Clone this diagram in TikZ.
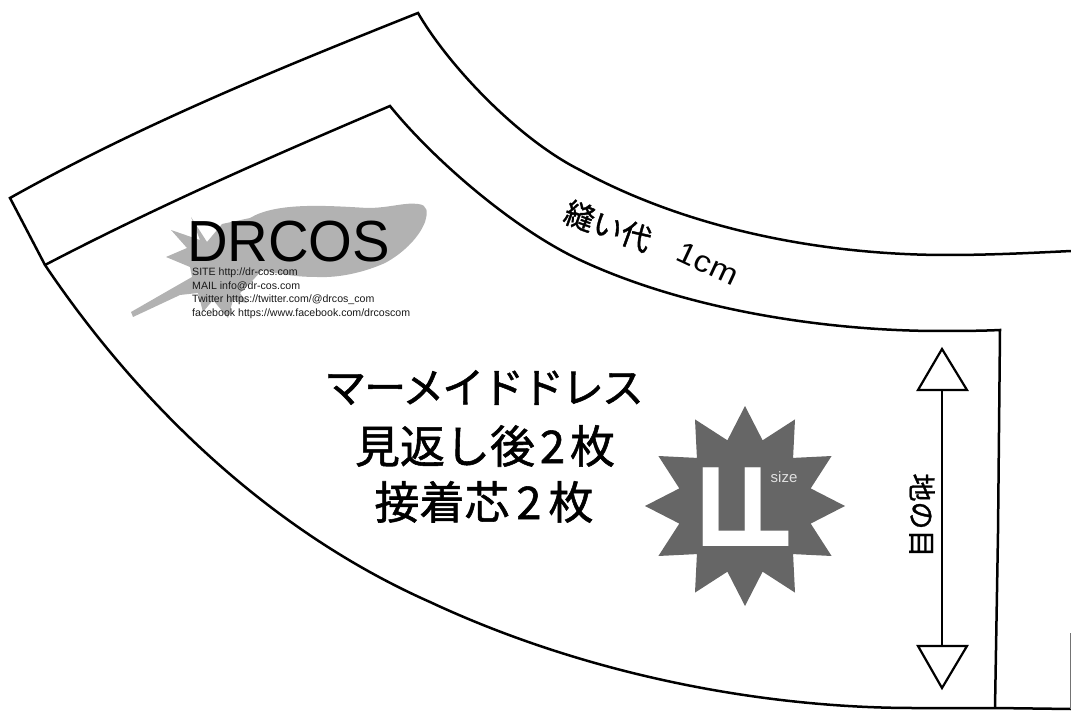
\documentclass[tikz,border=0pt]{standalone}
\usepackage{fontspec}
\usepackage{graphicx}
\setmainfont{Liberation Sans}
\newfontfamily\cjk[FakeBold=1.2]{Noto Sans CJK JP}
\newfontfamily\cjktight[LetterSpace=-5,FakeBold=1.2]{Noto Sans CJK JP}
\newfontfamily\dejabold{DejaVu Sans Bold}
\newcommand{\fs}[1]{\fontsize{#1}{#1}\selectfont}
\begin{document}
\begin{tikzpicture}[x=1pt,y=-1pt,
  seam/.style={line width=2.5pt,line join=miter,draw=black},
  thinseam/.style={line width=2.2pt,draw=black},
  arrowhead/.style={line width=2.2pt,draw=black,fill=white,line join=miter},
  label/.style={inner sep=0pt,outer sep=0pt,text=black},
  info/.style={inner sep=0pt,anchor=base west,text=black!90,font=\fs{10.6}}]
\useasboundingbox (0,0) rectangle (1071,711);
% logo leaf
\fill[black!30] (250,218) .. controls (275,203) and (320,205) .. (367,208)
  .. controls (390,208) and (405,202) .. (418,204)
  .. controls (428,205) and (428,212) .. (425,222)
  .. controls (418,240) and (400,255) .. (385,263)
  .. controls (365,272) and (340,278) .. (317,277)
  .. controls (295,277) and (280,274) .. (262,270)
  -- (253,280) -- (240,293) -- (247,303) -- (233,300) -- (228,318) -- (213,300)
  -- (203,312) -- (198,293) -- (180,295) -- (133,317) -- (131,312) -- (178,285)
  -- (192,277) -- (190,267) -- (166,257) -- (187,248) -- (171,230) -- (200,240)
  -- (191,217) -- (207,242) -- (222,224) -- cycle;
% outer cutting line
\draw[seam] (1071,251) .. controls (1030,253) and (990,255) .. (947,255)
  .. controls (830,255) and (694,232) .. (580,170)
  .. controls (520,140) and (450,68) .. (418,13)
  .. controls (280,68) and (140,125) .. (10,198) -- (45,265)
  .. controls (140,406) and (272,532) .. (430,602)
  .. controls (584,674) and (760,708) .. (914,708)
  -- (995,708) -- (1071,709);
% inner sewing line
\draw[seam] (995,708) -- (998,533) -- (1000,330)
  .. controls (980,331) and (955,331) .. (933,331)
  .. controls (820,330) and (685,309) .. (580,260)
  .. controls (512,228) and (432,158) .. (390,106)
  .. controls (275,155) and (160,205) .. (45,265);
\draw[black!55,line width=1pt] (1070.5,633) -- (1070.5,709);
% grain arrow
\coordinate (shafttop) at (942,390);
\coordinate (shaftbot) at (942,646);
\draw[thinseam] (shafttop) -- (shaftbot);
\draw[arrowhead] (942,349) -- (967,390) -- (918,390) -- cycle;
\draw[arrowhead] (942,688) -- (967,646) -- (918,646) -- cycle;
\node[label,rotate=-90,font=\cjk\fs{28}] (grain) at (922,515.5) {地の目};
% size star
\fill[black!60] plot[samples at={0,...,23},variable=\k] ({745+(mod(\k,2)==0?100:68)*cos(90+15*\k)},{506+(mod(\k,2)==0?100:68)*sin(90+15*\k)}) -- cycle;
\node[label,anchor=base west,text=white,font=\dejabold\fs{108}] (sizea) at (695,546) {\scalebox{.78}[1]{L}};
\node[label,anchor=base west,text=white,font=\dejabold\fs{108}] (sizeb) at (737.3,546) {\scalebox{.78}[1]{L}};
\node[label,text=black!12,font=\fs{15}] (sizetext) at (784,477) {size};
% logo text
\node[label,anchor=base west,font=\fs{58}] (drcos) at (187,262) {\scalebox{.97}[1]{DRCOS}};
\node[info] (site) at (192,276) {SITE http://dr-cos.com};
\node[info] (mail) at (192,290) {MAIL info@dr-cos.com};
\node[info] (twitter) at (192,303) {Twitter https://twitter.com/@drcos\_com};
\node[info] (facebook) at (192,317) {facebook https://www.facebook.com/drcoscom};
% main text
\node[label,anchor=base,font=\cjktight\fs{42}] (title) at (484,403) {マーメイドドレス};
\node[label,anchor=base,font=\cjk\fs{45}] (line2) at (485,463) {見返し後\kern5pt 2\kern5pt 枚};
\node[label,anchor=base,font=\cjk\fs{45}] (line3) at (484,519) {接着芯\kern7pt 2\kern7pt 枚};
% seam allowance
\node[label,rotate=-20,font=\cjk\fs{30}] (allow) at (608,226) {縫い代};
\node[label,rotate=-25,font=\fs{30}] (allowcm) at (708,264) {\scalebox{1.12}[1]{1cm}};
\end{tikzpicture}
\end{document}
